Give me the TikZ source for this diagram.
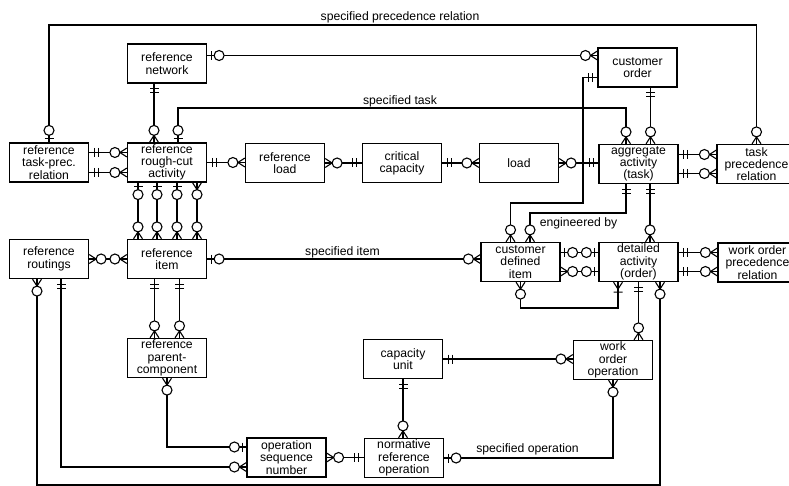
\documentclass[tikz,border=0pt]{standalone}
\usepackage{fontspec}
\setmainfont{Liberation Sans}
\usetikzlibrary{decorations.markings}

\tikzset{
  entity/.style={draw, line width=1.2pt, minimum width=79pt, minimum height=39pt,
    inner sep=0pt, align=center, font=\fontsize{12.2}{12.3}\selectfont},
  rel/.style={inner sep=0pt, font=\fontsize{12.2}{14}\selectfont},
  % cardinality marks, drawn with the x axis pointing away from the entity
  one/.pic={\draw (5,-4.5) -- (5,4.5) (9,-4.5) -- (9,4.5);},
  zone/.pic={\draw (4,-4.5) -- (4,4.5); \draw[fill=white] (12,0) circle[radius=5pt];},
  zmany/.pic={\draw (0,-4.5) -- (7,0) -- (0,4.5); \draw[fill=white] (12,0) circle[radius=5pt];},
  omany/.pic={\draw (0,-4.5) -- (7,0) -- (0,4.5) (10,-4.5) -- (10,4.5);},
  ends/.style 2 args={postaction={decorate, decoration={markings,
      mark=at position 0 with {\pic[transform shape]{#1};},
      mark=at position 1 with {\pic[transform shape, xscale=-1]{#2};}}}},
}

\begin{document}
\begin{tikzpicture}[x=1pt, y=-1pt, line width=1.1pt]
\path[fill=white, use as bounding box] (0,0) rectangle (789,486);

% entities
\node[entity] (rnet)   at (167,63.5)   {reference\\network};
\node[entity] (corder) at (637.5,67.5) {customer\\order};
\node[entity] (rtpr)   at (49,162.5)   {reference\\task-prec.\\relation};
\node[entity] (rrca)   at (167,162.5)  {reference\\rough-cut\\activity};
\node[entity] (rload)  at (285,163)    {reference\\load};
\node[entity] (ccap)   at (402,163)    {critical\\capacity};
\node[entity] (load)   at (519,163)    {load};
\node[entity] (aggr)   at (638.5,164)  {aggregate\\activity\\(task)};
\node[entity] (tpr)    at (756.5,164)  {task\\precedence\\relation};
\node[entity] (rrout)  at (49,259)     {reference\\routings};
\node[entity] (ritem)  at (167,259)    {reference\\item};
\node[entity] (cdi)    at (520.5,262)  {customer\\defined\\item};
\node[entity] (dact)   at (638.5,262)  {detailed\\activity\\(order)};
\node[entity] (wopr)   at (757.5,262.5){work order\\precedence\\relation};
\node[entity] (rpc)    at (167,358)    {reference\\parent-\\component};
\node[entity] (cunit)  at (403,359)    {capacity\\unit};
\node[entity] (woo)    at (613,360)    {work\\order\\operation};
\node[entity] (osn)    at (286.5,457.5){operation\\sequence\\number};
\node[entity] (nro)    at (404,458)    {normative\\reference\\operation};

% routing levels
\coordinate (yPrec) at (0,25);
\coordinate (yTask) at (0,108);
\coordinate (xCO)   at (583,0);
\coordinate (yCO)   at (0,203);
\coordinate (yEng)  at (0,213);
\coordinate (yLoop) at (0,308);
\coordinate (yPC)   at (0,447);
\coordinate (yRO)   at (0,467);
\coordinate (yBot)  at (0,485);

% relationships
\draw[ends={zone}{zmany}] (rtpr.north) -- (rtpr.north |- yPrec) -| (tpr.north);
\draw[ends={zone}{zmany}] ([yshift=8pt]rnet.east) -- ([yshift=8pt]rnet.east -| corder.west);
\draw[ends={one}{zmany}] ([xshift=-13pt]rnet.south) -- ([xshift=-13pt]rrca.north);
\draw[ends={zone}{zmany}] ([xshift=11pt]rrca.north) -- ([xshift=11pt]rrca.north |- yTask) -| ([xshift=-12.5pt]aggr.north);

\draw[ends={one}{zmany}] ([yshift=10pt]rtpr.east) -- ([yshift=10pt]rrca.west);
\draw[ends={one}{zmany}] ([yshift=-10pt]rtpr.east) -- ([yshift=-10pt]rrca.west);
\draw[ends={one}{zmany}] (rrca.east) -- (rrca.east -| rload.west);
\draw[ends={zmany}{one}] (rload.east) -- (ccap.west);
\draw[ends={one}{zmany}] (ccap.east) -- (load.west);
\draw[ends={zmany}{one}] (load.east) -- (load.east -| aggr.west);
\draw[ends={one}{zmany}] ([xshift=12pt]aggr.north |- corder.south) -- ([xshift=12pt]aggr.north);
\draw[ends={one}{zmany}] ([yshift=9.5pt]aggr.east) -- ([yshift=9.5pt]aggr.east -| tpr.west);
\draw[ends={one}{zmany}] ([yshift=-9.5pt]aggr.east) -- ([yshift=-9.5pt]aggr.east -| tpr.west);

\draw[ends={one}{zmany}] ([yshift=-10pt]corder.west) -- ([yshift=-10pt]corder.west -| xCO)
  -- (xCO |- yCO) -| ([xshift=-10pt]cdi.north);

\draw[ends={zone}{zmany}] ([xshift=-29pt]rrca.south) -- ([xshift=-29pt]ritem.north);
\draw[ends={zone}{zmany}] ([xshift=-10pt]rrca.south) -- ([xshift=-10pt]ritem.north);
\draw[ends={zone}{zmany}] ([xshift=10pt]rrca.south) -- ([xshift=10pt]ritem.north);
\draw[ends={zmany}{zmany}] ([xshift=30pt]rrca.south) -- ([xshift=30pt]ritem.north);

\draw[ends={zmany}{zmany}] (rrout.east) -- (ritem.west);
\draw[ends={zone}{zmany}] (ritem.east) -- (ritem.east -| cdi.west);
\draw[ends={one}{zmany}] ([xshift=-12.5pt]ritem.south) -- ([xshift=-12.5pt]rpc.north);
\draw[ends={one}{zmany}] ([xshift=12.5pt]ritem.south) -- ([xshift=12.5pt]rpc.north);

\draw[ends={one}{zmany}] ([xshift=12pt]rrout.south) -- ([xshift=12pt]rrout.south |- yRO) -- (yRO -| osn.west);
\draw[ends={zmany}{zmany}] ([xshift=-12pt]rrout.south) -- ([xshift=-12pt]rrout.south |- yBot) -| ([xshift=21.5pt]dact.south);

\draw[ends={zone}{zone}] ([yshift=9.5pt]cdi.east) -- ([yshift=9.5pt]dact.west);
\draw[ends={zmany}{zone}] ([yshift=-9.5pt]cdi.east) -- ([yshift=-9.5pt]dact.west);
\draw[ends={one}{zmany}] ([xshift=-12.5pt]aggr.south) -- ([xshift=-12.5pt]aggr.south |- yEng) -| ([xshift=9.5pt]cdi.north);
\draw[ends={one}{zmany}] ([xshift=11.5pt]aggr.south) -- ([xshift=11.5pt]dact.north);
\draw[ends={one}{zmany}] ([yshift=9.5pt]dact.east) -- ([yshift=9.5pt]dact.east -| wopr.west);
\draw[ends={one}{zmany}] ([yshift=-9.5pt]dact.east) -- ([yshift=-9.5pt]dact.east -| wopr.west);
\draw[ends={zmany}{omany}] (cdi.south) -- (cdi.south |- yLoop) -| ([xshift=-20.5pt]dact.south);
\draw[ends={one}{zmany}] (dact.south) -- (dact.south |- woo.north);

\draw[ends={zmany}{zone}] (rpc.south) -- (rpc.south |- yPC) -- (yPC -| osn.west);
\draw[ends={zmany}{one}] (osn.east) -- (osn.east -| nro.west);
\draw[ends={one}{zmany}] (cunit.south) -- (cunit.south |- nro.north);
\draw[ends={one}{zmany}] (cunit.east) -- (cunit.east -| woo.west);
\draw[ends={zone}{zmany}] (nro.east) -- (nro.east -| woo.south) -- (woo.south);

% relationship names
\node[rel] (lPrec) at (400,17)    {specified precedence relation};
\node[rel] (lTask) at (400,101.5) {specified task};
\node[rel] (lItem) at (342.5,252) {specified item};
\node[rel] (lEng)  at (578.5,223.5) {engineered by};
\node[rel] (lOper) at (527.5,449) {specified operation};
\end{tikzpicture}
\end{document}
